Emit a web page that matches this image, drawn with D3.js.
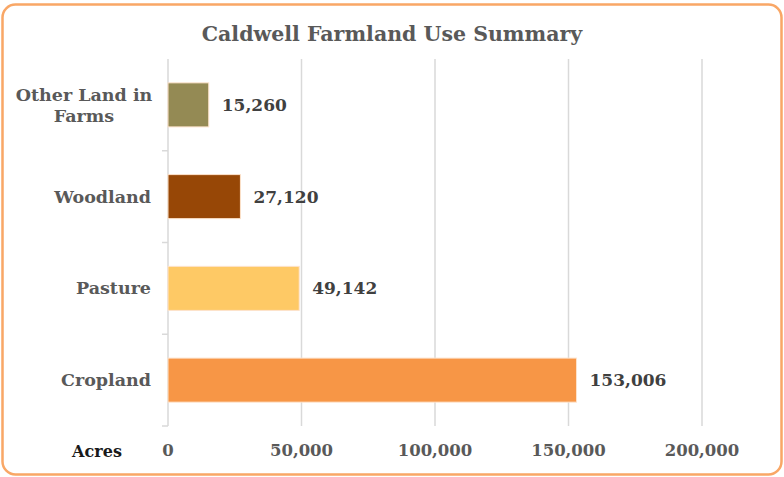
<!DOCTYPE html>
<html><head><meta charset="utf-8">
<script src="https://cdn.jsdelivr.net/npm/d3@7"></script>
<style>body{margin:0;background:#fff}svg{display:block}</style>
</head><body>
<script>
const categories = ["Other Land in Farms", "Woodland", "Pasture", "Cropland"];
const values = [15260, 27120, 49142, 153006];
const colors = ["#948a54", "#974706", "#fec965", "#f79646"];
const tickValues = [0, 50000, 100000, 150000, 200000];
const title = "Caldwell Farmland Use Summary";
const axisTitle = "Acres";

(function () {
const W = 784, H = 477;
const font = "'DejaVu Serif', 'Liberation Serif', serif";
const svg = d3.select("body").append("svg").attr("width", W).attr("height", H);
svg.append("rect").attr("x", 2.5).attr("y", 4.5).attr("width", W - 5).attr("height", H - 7)
  .attr("rx", 13).attr("fill", "#fff").attr("stroke", "#f9a766").attr("stroke-width", 2.5);

svg.append("text").attr("x", 392).attr("y", 41).attr("text-anchor", "middle")
  .attr("font-family", font).attr("font-weight", "bold").attr("font-size", 20.5)
  .attr("fill", "#595959").text(title);

const x = d3.scaleLinear().domain([0, 200000]).range([168, 702]);
const plotTop = 59, plotBottom = 426;
const y = d3.scaleBand().domain(categories).range([plotTop, plotBottom]).paddingInner(0.52).paddingOuter(0.26);

svg.append("g").selectAll("line").data(tickValues.slice(1)).join("line")
  .attr("x1", d => x(d)).attr("x2", d => x(d)).attr("y1", plotTop).attr("y2", plotBottom)
  .attr("stroke", "#d9d9d9").attr("stroke-width", 1.5);
svg.append("line").attr("x1", x(0)).attr("x2", x(0)).attr("y1", plotTop).attr("y2", plotBottom)
  .attr("stroke", "#d9d9d9").attr("stroke-width", 1.5);
const step = (plotBottom - plotTop) / categories.length;
svg.append("g").selectAll("line").data(d3.range(1, categories.length + 1)).join("line")
  .attr("x1", x(0) - 6).attr("x2", x(0)).attr("y1", d => plotTop + d * step).attr("y2", d => plotTop + d * step)
  .attr("stroke", "#d9d9d9").attr("stroke-width", 1.5);

svg.append("g").selectAll("rect").data(categories).join("rect")
  .attr("x", x(0)).attr("y", d => y(d)).attr("height", y.bandwidth())
  .attr("width", (d, i) => x(values[i]) - x(0))
  .attr("fill", (d, i) => colors[i]).attr("stroke", "#fde3cc").attr("stroke-width", 1);

const fmt = d3.format(",");
svg.append("g").selectAll("text").data(categories).join("text")
  .attr("x", (d, i) => x(values[i]) + 13).attr("y", d => y(d) + y.bandwidth() / 2 + 6)
  .attr("font-family", font).attr("font-weight", "bold").attr("font-size", 17)
  .attr("fill", "#404040").text((d, i) => fmt(values[i]));

const catG = svg.append("g");
categories.forEach(c => {
  const words = c === "Other Land in Farms" ? ["Other Land in", "Farms"] : [c];
  const cy = y(c) + y.bandwidth() / 2;
  const t = catG.append("text").attr("text-anchor", "middle")
    .attr("font-family", font).attr("font-weight", "bold").attr("font-size", 17.5).attr("fill", "#595959");
  if (words.length === 1) {
    t.attr("x", 151).attr("text-anchor", "end").attr("y", cy + 6).text(c);
  } else {
    words.forEach((w, i) => t.append("tspan").attr("x", 84).attr("y", cy - 4 + i * 21).text(w));
  }
});

svg.append("g").selectAll("text").data(tickValues).join("text")
  .attr("x", d => x(d)).attr("y", 456).attr("text-anchor", "middle")
  .attr("font-family", font).attr("font-weight", "bold").attr("font-size", 16.5)
  .attr("fill", "#595959").text(d => fmt(d));

svg.append("text").attr("x", 97).attr("y", 457).attr("text-anchor", "middle")
  .attr("font-family", font).attr("font-weight", "bold").attr("font-size", 16)
  .attr("fill", "#1a1a1a").text(axisTitle);
})();
</script>
</body></html>
